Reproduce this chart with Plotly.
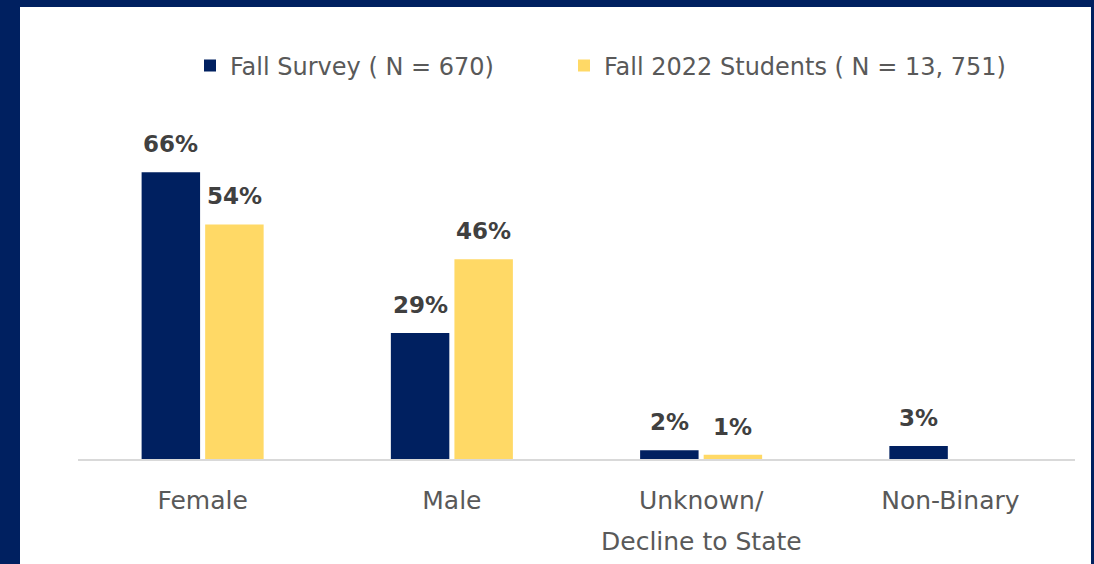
import plotly.graph_objects as go

categories = ["Female", "Male", "Unknown/ Decline to State", "Non-Binary"]
tick_labels = ["Female", "Male", "Unknown/", "Non-Binary"]
tick_second_line = {"Unknown/ Decline to State": "Decline to State"}
survey_values = [66, 29, 2, 3]
students_values = [54, 46, 1, None]
survey_labels = ["66%", "29%", "2%", "3%"]
students_labels = ["54%", "46%", "1%", ""]
series_names = ["Fall Survey ( N = 670)", "Fall 2022 Students ( N = 13, 751)"]

NAVY = "#002060"
GOLD = "#FFD966"
TXT = "#595959"
LBL = "#404040"
FONT = "DejaVu Sans"

W, H = 1094, 564
ml, mr, mt, mb = 78, 19, 155, 105
pw = W - ml - mr
ph = H - mt - mb
BARGAP, GROUPGAP = 0.49, 0.08

fig = go.Figure()
fig.add_trace(go.Bar(
    x=categories, y=survey_values, name=series_names[0],
    marker=dict(color=NAVY, line=dict(width=0)), legend="legend",
))
fig.add_trace(go.Bar(
    x=categories, y=students_values, name=series_names[1],
    marker=dict(color=GOLD, line=dict(width=0)), legend="legend2",
))

# data labels above the bars
slot = pw / len(categories) * (1 - BARGAP) / 2
for vals, labels, sign in [(survey_values, survey_labels, -1), (students_values, students_labels, 1)]:
    for c, v, t in zip(categories, vals, labels):
        if v is None or not t:
            continue
        fig.add_annotation(x=c, y=v, xref="x", yref="y", text=t, showarrow=False,
                           xanchor="center", yanchor="bottom",
                           xshift=sign * slot / 2, yshift=13,
                           font=dict(family=FONT, size=23, color=LBL, weight="bold"))

# second line of the wrapped category label
for c, t in tick_second_line.items():
    fig.add_annotation(x=c, y=(H - mb - 541) / ph, xref="x", yref="paper", text=t,
                       showarrow=False, xanchor="center", yanchor="middle",
                       font=dict(family=FONT, size=25, color=TXT))

# white card with navy frame
fig.add_shape(type="rect", xref="paper", yref="paper", layer="below",
              x0=(20 - ml) / pw, x1=(1091 - ml) / pw,
              y0=(H - mb - 600) / ph, y1=(H - mb - 7) / ph,
              fillcolor="white", line=dict(width=0))

leg_common = dict(orientation="h", xanchor="left", yanchor="middle",
                  y=(H - mb - 66) / ph,
                  font=dict(family=FONT, size=24, color=TXT),
                  bgcolor="rgba(0,0,0,0)")

fig.update_layout(
    width=W, height=H,
    margin=dict(l=ml, r=mr, t=mt, b=mb),
    paper_bgcolor=NAVY, plot_bgcolor="white",
    barmode="group", bargap=BARGAP, bargroupgap=GROUPGAP,
    font=dict(family=FONT, color=TXT),
    legend=dict(x=(190 - ml) / pw, **leg_common),
    legend2=dict(x=(564 - ml) / pw, **leg_common),
    xaxis=dict(showline=True, linecolor="#D9D9D9", linewidth=2,
               showgrid=False, ticks="outside", ticklen=18, tickcolor="rgba(0,0,0,0)",
               tickvals=categories, ticktext=tick_labels,
               tickfont=dict(family=FONT, size=25, color=TXT)),
    yaxis=dict(range=[0, 70], visible=False, showgrid=False, zeroline=False),
    showlegend=True,
)

fig.write_html("out.html", config={"displayModeBar": False},
               post_script="document.body.style.margin='0';")
